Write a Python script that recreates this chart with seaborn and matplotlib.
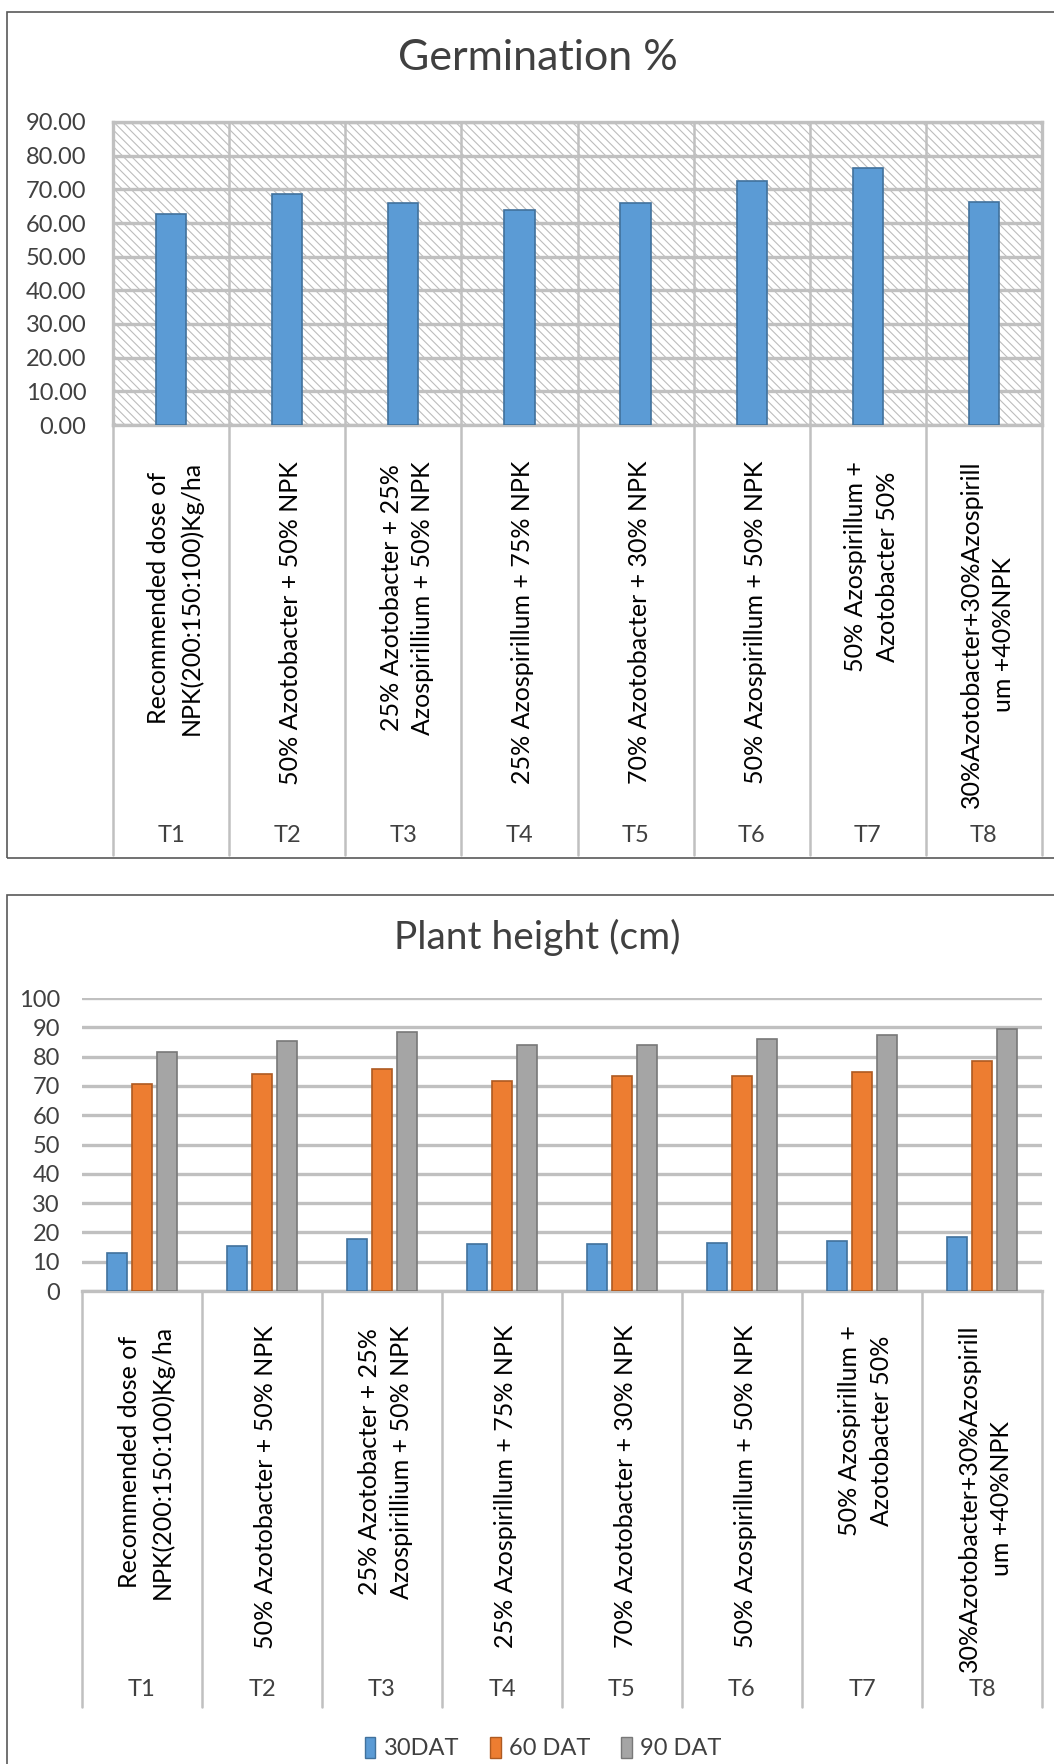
import matplotlib
matplotlib.use("Agg")
import matplotlib.pyplot as plt
from matplotlib.patches import Rectangle
import seaborn as sns
import pandas as pd

# ---------------- data ----------------
treatments = ["T1", "T2", "T3", "T4", "T5", "T6", "T7", "T8"]
descriptions = [
    "Recommended dose of\nNPK(200:150:100)Kg/ha",
    "50% Azotobacter + 50% NPK",
    "25% Azotobacter + 25%\nAzospirillium + 50% NPK",
    "25% Azospirillum + 75% NPK",
    "70% Azotobacter + 30% NPK",
    "50% Azospirillum + 50% NPK",
    "50% Azospirillum +\nAzotobacter 50%",
    "30%Azotobacter+30%Azospirill\num +40%NPK",
]
germination = [62.6, 68.5, 65.8, 64.0, 65.8, 72.4, 76.4, 66.2]

stages = ["30DAT", "60 DAT", "90 DAT"]
height_30 = [13.0, 15.5, 17.9, 16.0, 16.0, 16.4, 17.0, 18.5]
height_60 = [70.6, 74.0, 75.9, 71.6, 73.5, 73.4, 74.6, 78.4]
height_90 = [81.4, 85.4, 88.4, 83.9, 83.9, 85.9, 87.3, 89.4]

germ_ticks = [0, 10, 20, 30, 40, 50, 60, 70, 80, 90]
height_ticks = [0, 10, 20, 30, 40, 50, 60, 70, 80, 90, 100]

# ---------------- style ----------------
sns.set_style("white")
plt.rcParams["font.family"] = ["Lato", "DejaVu Sans"]
plt.rcParams["hatch.linewidth"] = 0.8
plt.rcParams["hatch.color"] = "#bdbdbd"

TXT = "#404040"
GRID = "#c0c0c0"
W, H = 1054, 1764
fig = plt.figure(figsize=(W / 100, H / 100), dpi=100)


def fig_rect(left, top, right, bottom):
    return [left / W, 1 - bottom / H, (right - left) / W, (bottom - top) / H]


# chart frames (cropped on the right like the reference)
fig.add_artist(Rectangle((7 / W, 1 - 858 / H), 1.2, (858 - 12) / H,
                         transform=fig.transFigure, fill=False,
                         edgecolor="#595959", lw=1.2))
fig.add_artist(Rectangle((7 / W, -0.1), 1.2, 0.1 + 1 - 895 / H,
                         transform=fig.transFigure, fill=False,
                         edgecolor="#595959", lw=1.2))

# ================= Germination % =================
ax1 = fig.add_axes(fig_rect(113, 122, 1042, 425))
ax1.add_patch(Rectangle((0, 0), 1, 1, transform=ax1.transAxes,
                        facecolor="white", edgecolor="#bdbdbd",
                        hatch="\\\\\\\\", lw=0, zorder=0))
germ_df = pd.DataFrame({"treatment": treatments, "germination": germination})
sns.barplot(data=germ_df, x="treatment", y="germination", color="#5b9bd5",
            saturation=1, width=0.26, edgecolor="#41719c", linewidth=1.2,
            ax=ax1, zorder=3)
ax1.set_xlim(-0.5, len(treatments) - 0.5)
ax1.set_ylim(0, 90)
ax1.set_yticks(germ_ticks)
ax1.set_yticklabels([f"{t:.2f}" for t in germ_ticks])
ax1.yaxis.grid(True, color=GRID, lw=2.4, zorder=1)
ax1.set_axisbelow(True)
for s in ax1.spines.values():
    s.set_color(GRID)
    s.set_linewidth(2.4)
ax1.set_xlabel("")
ax1.set_ylabel("")
ax1.set_xticklabels([])
ax1.tick_params(axis="x", length=0)
ax1.tick_params(axis="y", length=0, pad=19, labelsize=17, labelcolor=TXT)
h1 = 303
for i in range(len(treatments) + 1):
    ax1.plot([i - 0.5, i - 0.5], [1, -430 / h1], transform=ax1.get_xaxis_transform(),
             color=GRID, lw=1.8, clip_on=False, zorder=1)
for i, (t, d) in enumerate(zip(treatments, descriptions)):
    ax1.text(i + 0.03, -36 / h1, d, transform=ax1.get_xaxis_transform(), rotation=90,
             ha="center", va="top", multialignment="center", linespacing=1.45,
             fontsize=18, color="black")
    ax1.text(i, -411 / h1, t, transform=ax1.get_xaxis_transform(),
             ha="center", va="center", fontsize=17, color=TXT)
fig.text(538 / W, 1 - 70 / H, "Germination %", ha="center", va="baseline",
         fontsize=31, color=TXT)

# ================= Plant height =================
ax2 = fig.add_axes(fig_rect(82, 998, 1042, 1291))
height_df = pd.DataFrame({
    "treatment": treatments * 3,
    "stage": [stages[0]] * 8 + [stages[1]] * 8 + [stages[2]] * 8,
    "height": height_30 + height_60 + height_90,
})
fills = ["#5b9bd5", "#ed7d31", "#a5a5a5"]
edges = ["#41719c", "#ae5a21", "#787878"]
sns.barplot(data=height_df, x="treatment", y="height", hue="stage",
            hue_order=stages, palette=fills, saturation=1, width=0.62, gap=0.17,
            linewidth=1.2, ax=ax2, zorder=3)
for cont, ec in zip(ax2.containers, edges):
    for p in cont:
        p.set_edgecolor(ec)
ax2.set_xlim(-0.5, len(treatments) - 0.5)
ax2.set_ylim(0, 100)
ax2.set_yticks(height_ticks)
ax2.set_yticklabels([str(t) for t in height_ticks])
ax2.yaxis.grid(True, color=GRID, lw=2.4, zorder=1)
ax2.set_axisbelow(True)
for k in ["left", "right", "top"]:
    ax2.spines[k].set_visible(False)
ax2.spines["bottom"].set_color(GRID)
ax2.spines["bottom"].set_linewidth(2.4)
ax2.set_xlabel("")
ax2.set_ylabel("")
ax2.set_xticklabels([])
ax2.tick_params(axis="x", length=0)
ax2.tick_params(axis="y", length=0, pad=16, labelsize=17, labelcolor=TXT)
h2 = 293
for i in range(len(treatments) + 1):
    ax2.plot([i - 0.5, i - 0.5], [0, -416 / h2], transform=ax2.get_xaxis_transform(),
             color=GRID, lw=1.8, clip_on=False, zorder=1)
for i, (t, d) in enumerate(zip(treatments, descriptions)):
    ax2.text(i + 0.03, -34 / h2, d, transform=ax2.get_xaxis_transform(), rotation=90,
             ha="center", va="top", multialignment="center", linespacing=1.45,
             fontsize=18, color="black")
    ax2.text(i, -399 / h2, t, transform=ax2.get_xaxis_transform(),
             ha="center", va="center", fontsize=17, color=TXT)
fig.text(537 / W, 1 - 949 / H, "Plant height (cm)", ha="center", va="baseline",
         fontsize=28, color=TXT)

handles, labels = ax2.get_legend_handles_labels()
for hnd, ec in zip(handles, edges):
    hnd.set_edgecolor(ec)
    hnd.set_linewidth(1.0)
ax2.legend(handles, labels, loc="center", bbox_to_anchor=(543 / W, 1 - 1748 / H),
           bbox_transform=fig.transFigure, ncol=3, frameon=False,
           handlelength=0.45, handleheight=1.0, handletextpad=0.35,
           columnspacing=1.3, fontsize=17, labelcolor=TXT)

fig.savefig("out.png", dpi=100, facecolor="white")
